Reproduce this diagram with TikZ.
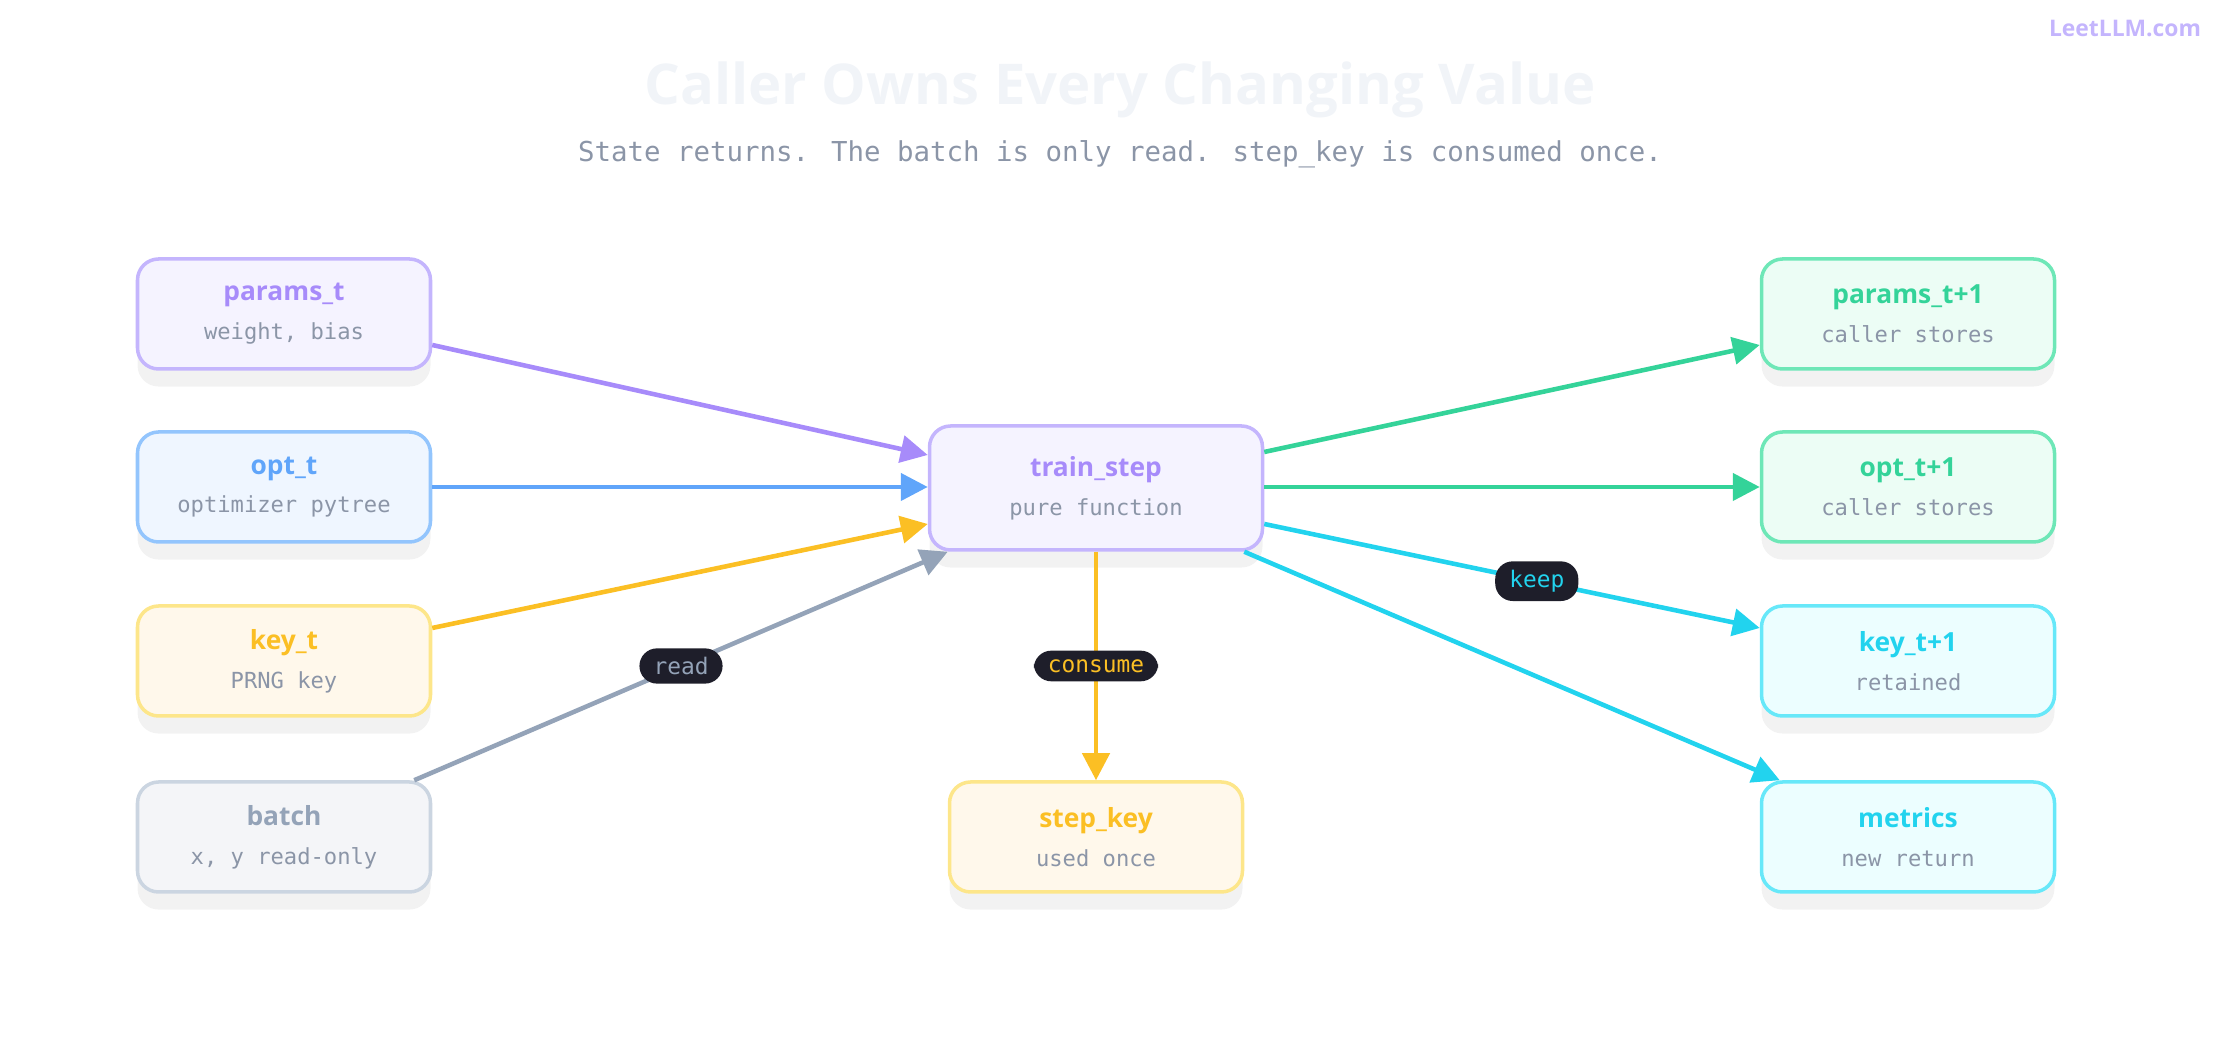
\documentclass[tikz,border=0pt]{standalone}
\usepackage{fontspec}
\setmainfont{Open Sans}
\newfontfamily\monofont{DejaVu Sans Mono}
\usetikzlibrary{arrows.meta,shadows,calc}

\definecolor{purp}{HTML}{A78BFA}\definecolor{purpB}{HTML}{C4B5FD}\definecolor{purpF}{HTML}{F5F3FF}
\definecolor{blu}{HTML}{60A5FA}\definecolor{bluB}{HTML}{93C5FD}\definecolor{bluF}{HTML}{EFF6FF}
\definecolor{yel}{HTML}{FBBF24}\definecolor{yelB}{HTML}{FDE68A}\definecolor{yelF}{HTML}{FFF8EB}
\definecolor{gry}{HTML}{94A3B8}\definecolor{gryB}{HTML}{CBD5E1}\definecolor{gryF}{HTML}{F4F5F8}
\definecolor{grn}{HTML}{34D399}\definecolor{grnB}{HTML}{6EE7B7}\definecolor{grnF}{HTML}{ECFDF5}
\definecolor{cyn}{HTML}{22D3EE}\definecolor{cynB}{HTML}{67E8F9}\definecolor{cynF}{HTML}{ECFEFF}
\definecolor{subtxt}{HTML}{8B95A7}
\definecolor{pill}{HTML}{1E1E2A}

\newcommand{\boxtext}[3]{{\fontsize{7.5pt}{9pt}\selectfont\bfseries\color{#1}#2}\\[-1pt]{\monofont\fontsize{6.3pt}{8pt}\selectfont\color{subtxt}#3}}

\begin{document}
\begin{tikzpicture}[x=1cm,y=1cm,
    card/.style n args={2}{draw=#1, fill=#2, line width=1pt, rounded corners=6pt,
        minimum width=2.93cm, minimum height=1.10cm, align=center, inner sep=0pt,
        drop shadow={opacity=0.10, shadow xshift=0pt, shadow yshift=-5pt}},
    flow/.style={draw=#1, line width=1.3pt, -{Triangle[length=0.27cm,width=0.27cm,fill=#1]}},
    tag/.style={fill=pill, rounded corners=5pt, inner xsep=4pt, inner ysep=2.5pt,
        font=\monofont\fontsize{6.5pt}{8pt}\selectfont, text=#1}]

        \useasboundingbox (0,0) rectangle (22.4,10.4);

        \node at (11.2,9.5) {\fontsize{16pt}{19pt}\selectfont\bfseries\color[HTML]{F1F4F8}Caller Owns Every Changing Value};
        \node at (11.2,8.86) {\monofont\fontsize{7.8pt}{9pt}\selectfont\color{subtxt}State returns. The batch is only read. step\_key is consumed once.};
        \node at (21.25,10.11) {\fontsize{6.5pt}{8pt}\selectfont\bfseries\color{purpB}LeetLLM.com};

        % inputs
        \node [card={purpB}{purpF}] (params) at (2.84,7.26) {\boxtext{purp}{params\_t}{weight, bias}};
        \node [card={bluB}{bluF}] (opt) at (2.84,5.53) {\boxtext{blu}{opt\_t}{optimizer pytree}};
        \node [card={yelB}{yelF}] (key) at (2.84,3.79) {\boxtext{yel}{key\_t}{PRNG key}};
        \node [card={gryB}{gryF}] (batch) at (2.84,2.03) {\boxtext{gry}{batch}{x, y read-only}};

        % step
        \node [card={purpB}{purpF}, minimum width=3.33cm, minimum height=1.24cm] (train) at (10.96,5.52) {\boxtext{purp}{train\_step}{pure function}};
        \node [card={yelB}{yelF}] (skey) at (10.96,2.03) {\boxtext{yel}{step\_key}{used once}};

        % outputs
        \node [card={grnB}{grnF}] (params1) at (19.08,7.26) {\boxtext{grn}{params\_t+1}{caller stores}};
        \node [card={grnB}{grnF}] (opt1) at (19.08,5.53) {\boxtext{grn}{opt\_t+1}{caller stores}};
        \node [card={cynB}{cynF}] (key1) at (19.08,3.79) {\boxtext{cyn}{key\_t+1}{retained}};
        \node [card={cynB}{cynF}] (metrics) at (19.08,2.03) {\boxtext{cyn}{metrics}{new return}};

        \draw [flow=purp] ($(params.east)+(0,-0.31)$) -- ($(train.west)+(0,0.33)$);
        \draw [flow=blu] (opt.east) -- (train.west |- opt.east);
        \draw [flow=yel] ($(key.east)+(0,0.33)$) -- ($(train.west)+(0,-0.36)$);
        \draw [flow=gry] ($(batch.north east)+(-0.18,0)$) -- ($(train.south west)+(0.2,0)$)
            node [pos=0.5, tag=gry] {read};

        \draw [flow=yel] (train.south) -- (skey.north);
        \node [tag=yel] at ($(train.south)!0.5!(skey.north)$) {consume};

        \draw [flow=grn] ($(train.east)+(0,0.36)$) -- ($(params1.west)+(0,-0.31)$);
        \draw [flow=grn] (train.east |- opt1.west) -- (opt1.west);
        \draw [flow=cyn] ($(train.east)+(0,-0.36)$) -- ($(key1.west)+(0,0.33)$)
            node [pos=0.55, tag=cyn] {keep};
        \draw [flow=cyn] ($(train.south east)+(-0.2,0)$) -- ($(metrics.north west)+(0.2,0)$);

    \end{tikzpicture}
\end{document}
